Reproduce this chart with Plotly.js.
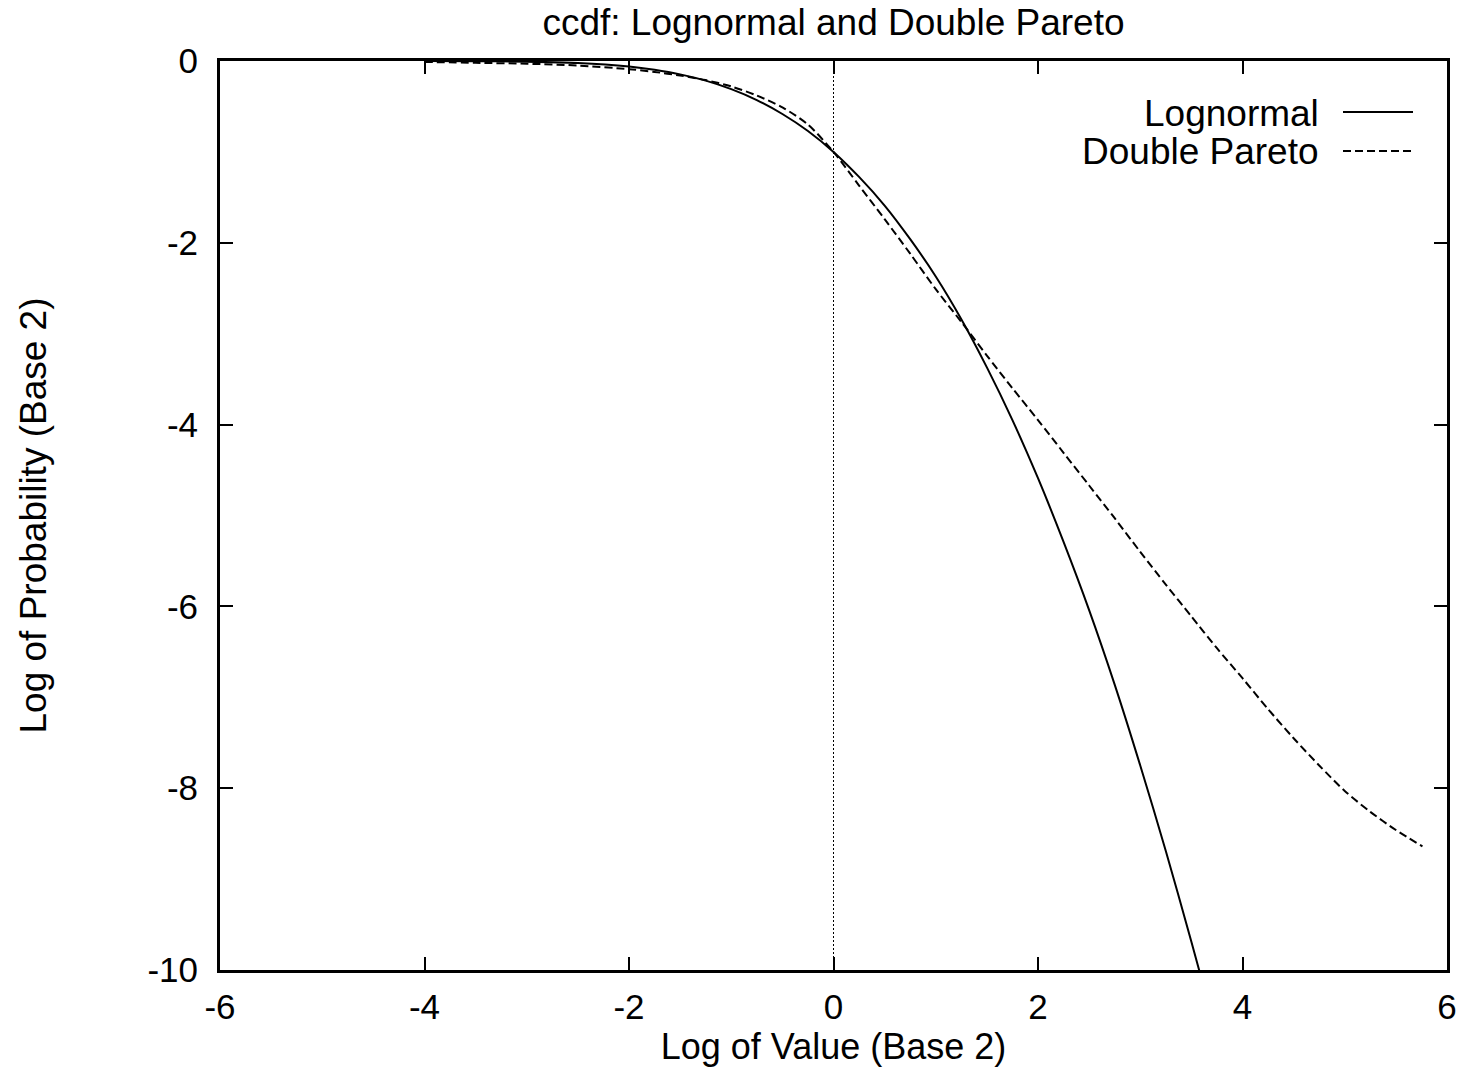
<!DOCTYPE html>
<html>
<head>
<meta charset="utf-8">
<script src="https://cdn.plot.ly/plotly-3.0.1.min.js"></script>
<style>html,body{margin:0;padding:0;background:#fff}#chart{width:1465px;height:1067px}</style>
</head>
<body>
<div id="chart"></div>
<script>
// Log2 of value (x) and log2 of ccdf (y)
var lognormalX = [-4, -3.5, -3, -2.5, -2, -1.75, -1.5, -1.25, -1, -0.75, -0.5, -0.25, 0, 0.25, 0.5, 0.75, 1, 1.25, 1.5, 1.75, 2, 2.25, 2.5, 2.75, 3, 3.25, 3.5, 3.6];
var lognormalY = [0.0, -0.002, -0.007, -0.022, -0.061, -0.097, -0.147, -0.216, -0.31, -0.43, -0.583, -0.77, -1.0, -1.275, -1.59, -1.96, -2.37, -2.84, -3.37, -3.95, -4.59, -5.29, -6.04, -6.86, -7.75, -8.69, -9.69, -10.1];

var paretoX = [-4, -3.5, -3, -2.5, -2, -1.75, -1.5, -1.25, -1, -0.75, -0.5, -0.25, 0, 0.25, 0.5, 0.75, 1, 1.25, 1.5, 1.75, 2, 2.25, 2.5, 2.75, 3, 3.25, 3.5, 3.75, 4, 4.25, 4.5, 4.75, 5, 5.25, 5.5, 5.76];
var paretoY = [-0.01, -0.02, -0.03, -0.05, -0.09, -0.12, -0.16, -0.21, -0.28, -0.38, -0.51, -0.70, -1.0, -1.37, -1.74, -2.12, -2.51, -2.87, -3.24, -3.60, -3.95, -4.31, -4.67, -5.03, -5.40, -5.76, -6.11, -6.46, -6.79, -7.13, -7.45, -7.75, -8.03, -8.26, -8.46, -8.64];

var seriesNames = ["Lognormal", "Double Pareto"];
var xTicks = [-6, -4, -2, 0, 2, 4, 6];
var yTicks = [0, -2, -4, -6, -8, -10];

var FONT = "Liberation Sans, Arial, Helvetica, sans-serif";
var FS = 37;
var TFS = 35;

var traces = [
  {x: lognormalX, y: lognormalY, name: seriesNames[0], type: "scatter", mode: "lines",
   line: {color: "#000", width: 2, shape: "spline", smoothing: 0.8}, showlegend: false, hoverinfo: "x+y"},
  {x: paretoX, y: paretoY, name: seriesNames[1], type: "scatter", mode: "lines",
   line: {color: "#000", width: 2, dash: "8px,4px", shape: "spline", smoothing: 0.8}, showlegend: false, hoverinfo: "x+y"}
];

var L = 220, R = 18, T = 61, B = 97;
var W = 1465 - L - R, H = 1067 - T - B;
function px(x) { return (x - L) / W; }
function py(y) { return (1067 - B - y) / H; }

var layout = {
  width: 1465, height: 1067,
  margin: {l: L, r: R, t: T, b: B, pad: 0},
  paper_bgcolor: "#fff", plot_bgcolor: "#fff",
  font: {family: FONT, size: FS, color: "#000"},
  title: {text: "ccdf: Lognormal and Double Pareto", x: 0.5, xref: "paper", xanchor: "center",
          y: 1 - 22 / 1067, yref: "container", yanchor: "middle", font: {family: FONT, size: FS, color: "#000"}},
  xaxis: {
    range: [-6, 6], tickvals: xTicks, ticktext: xTicks.map(String),
    ticks: "inside", ticklen: 13, tickwidth: 2, tickcolor: "#000",
    showline: true, linewidth: 3, linecolor: "#000", mirror: "ticks",
    showgrid: false, zeroline: false, ticklabelstandoff: 4,
    tickfont: {family: FONT, size: TFS, color: "#000"},
    title: {text: "Log of Value (Base 2)", standoff: 6, font: {family: FONT, size: 36, color: "#000"}},
    fixedrange: true
  },
  yaxis: {
    range: [-10, 0], tickvals: yTicks, ticktext: yTicks.map(String),
    ticks: "inside", ticklen: 13, tickwidth: 2, tickcolor: "#000",
    showline: true, linewidth: 3, linecolor: "#000", mirror: "ticks",
    showgrid: false, zeroline: false, ticklabelstandoff: 12,
    tickfont: {family: FONT, size: TFS, color: "#000"},
    title: {text: "Log of Probability (Base 2)", standoff: 90, font: {family: FONT, size: FS, color: "#000"}},
    fixedrange: true
  },
  shapes: [
    {type: "line", xref: "x", yref: "paper", x0: 0, x1: 0, y0: 0, y1: 1,
     line: {color: "#000", width: 1, dash: "2px,2px"}, layer: "below"},
    {type: "line", xref: "paper", yref: "paper", x0: px(1343), x1: px(1413), y0: py(112), y1: py(112),
     line: {color: "#000", width: 2}},
    {type: "line", xref: "paper", yref: "paper", x0: px(1343), x1: px(1413), y0: py(151), y1: py(151),
     line: {color: "#000", width: 2, dash: "8px,4px"}}
  ],
  annotations: [
    {xref: "paper", yref: "paper", x: px(1321), y: py(113), xanchor: "right", yanchor: "middle",
     text: seriesNames[0], showarrow: false, font: {family: FONT, size: FS, color: "#000"}},
    {xref: "paper", yref: "paper", x: px(1321), y: py(152), xanchor: "right", yanchor: "middle",
     text: seriesNames[1], showarrow: false, font: {family: FONT, size: FS, color: "#000"}}
  ],
  showlegend: false
};

Plotly.newPlot("chart", traces, layout, {displayModeBar: false, staticPlot: true});
</script>
</body>
</html>
